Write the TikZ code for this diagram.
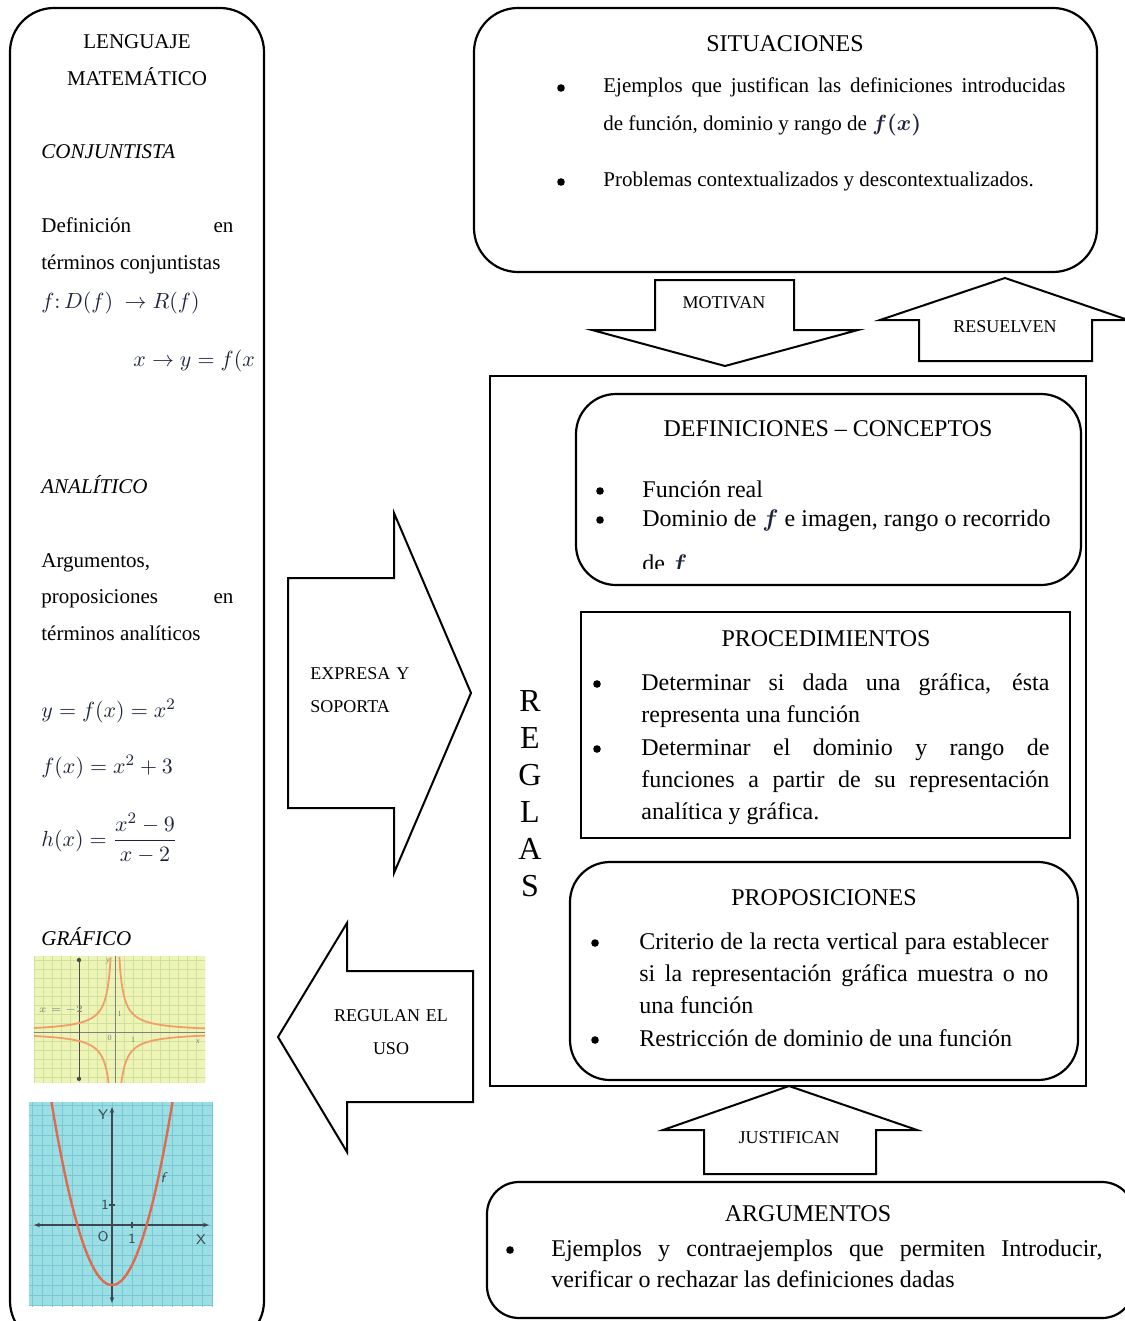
\documentclass[tikz,border=0pt]{standalone}
\usepackage{amsmath}
\usepackage{fontspec}
\setmainfont{Liberation Serif}
\usetikzlibrary{fit}
\usetikzlibrary{arrows.meta}

\definecolor{ybg}{RGB}{238,243,182}
\definecolor{ygrid}{RGB}{206,226,160}
\definecolor{ycurve}{RGB}{240,158,108}
\definecolor{cbg}{RGB}{155,223,229}
\definecolor{cgrid}{RGB}{118,200,212}
\definecolor{ccurve}{RGB}{226,104,78}
\definecolor{caxis}{RGB}{62,72,82}
\definecolor{mcol}{RGB}{30,36,60}

\tikzset{
  rbox/.style={draw, line width=1.1pt, rounded corners=20pt, inner sep=0pt},
  sbox/.style={draw, line width=1pt, inner sep=0pt},
  barrow/.style={draw, line width=1pt, line join=miter},
  title/.style={font=\fontsize{12}{14}\selectfont, anchor=base, inner sep=0pt},
  ltxt/.style={font=\fontsize{10.5}{18.5}\selectfont, anchor=base west, inner sep=0pt},
  lmath/.style={font=\fontsize{11}{13}\selectfont, text=mcol, anchor=base west, inner sep=0pt},
  stxt/.style={font=\fontsize{10.5}{19}\selectfont, anchor=base west, inner sep=0pt},
  btxt/.style={font=\fontsize{12}{16}\selectfont, anchor=base west, inner sep=0pt},
  atxt/.style={font=\fontsize{9}{16.5}\selectfont, inner sep=0pt},
  bul/.style={circle, fill, inner sep=0pt, minimum size=3.8pt},
}
\newcommand{\fm}[1]{\textcolor{mcol}{\boldmath$#1$}}

\begin{document}
\begin{tikzpicture}[x=0.5pt, y=-0.5pt]
  \useasboundingbox (0,0) rectangle (1124,1321);

  % lenguaje matematico
  \node[rbox, rounded corners=22pt, fit={(10,8) (264,1345)}] (leng) {};
  \node[ltxt, anchor=base] (lengA) at (137,49) {LENGUAJE};
  \node[ltxt, anchor=base] (lengB) at (137,86) {MATEMÁTICO};
  \node[ltxt] (conj) at (41,159) {\textit{CONJUNTISTA}};
  \node[ltxt, text width=96pt, align=justify] (defc) at (41,233)
    {Definición en\linebreak términos conjuntistas};
  \node[lmath] (fmap) at (41,308) {$f{:}\,D(f)\ \rightarrow R(f)$};
  \begin{scope}
    \clip (130,340) rectangle (253,385);
    \node[lmath] (xmap) at (133,366) {$x\rightarrow y=f(x)$};
  \end{scope}
  \node[ltxt] (anal) at (41,493) {\textit{ANALÍTICO}};
  \node[ltxt, text width=96pt, align=justify, font=\fontsize{10.5}{18.25}\selectfont] (argl) at (41,567)
    {Argumentos,\\proposiciones en\linebreak términos analíticos};
  \node[lmath] (eqA) at (41,717) {$y=f(x)=x^2$};
  \node[lmath] (eqB) at (41,773) {$f(x)=x^2+3$};
  \node[lmath, anchor=west] (eqC) at (41,838) {$h(x)=\dfrac{x^2-9}{x-2}$};
  \node[ltxt] (graf) at (41,945) {\textit{GRÁFICO}};

  % grafica amarilla
  \begin{scope}[shift={(115,1032)}, x=9pt, y=9pt]
    \clip (-4.5,-2.83) rectangle (5,4.22);
    \fill[ybg] (-4.5,-2.83) rectangle (5,4.22);
    \draw[ygrid, line width=0.3pt, step=0.5] (-4.5,-3) grid (5,4.5);
    \draw[gray, line width=0.4pt] (-4.5,0) -- (5,0);
    \draw[gray, line width=0.4pt] (0,-2.83) -- (0,4.22);
    \draw[black!70, line width=0.5pt] (-2,-2.6) -- (-2,4.0);
    \fill[black!70] (-2,-2.6) circle (0.12) (-2,4.0) circle (0.12);
    \draw[ycurve, line width=0.9pt, domain=0.24:5, samples=80] plot (\x,{1/\x});
    \draw[ycurve, line width=0.9pt, domain=0.24:5, samples=80] plot (\x,{-1/\x});
    \draw[ycurve, line width=0.9pt, domain=-4.5:-0.24, samples=80] plot (\x,{-1/\x});
    \draw[ycurve, line width=0.9pt, domain=-4.5:-0.24, samples=80] plot (\x,{1/\x});
    \node[gray, font=\fontsize{4}{5}\selectfont\itshape, inner sep=0pt] (yly) at (-0.4,3.9) {y};
    \node[gray, font=\fontsize{4}{5}\selectfont\itshape, inner sep=0pt] (ylx) at (4.6,-0.55) {x};
    \node[gray, font=\fontsize{4}{5}\selectfont, inner sep=0pt] (ylv) at (-3.0,1.2) {$x=-2$};
    \node[gray, font=\fontsize{4}{5}\selectfont, inner sep=0pt] (ylo) at (-0.3,-0.35) {0};
    \node[gray, font=\fontsize{4}{5}\selectfont, inner sep=0pt] (yl1) at (1,-0.45) {1};
    \node[gray, font=\fontsize{4}{5}\selectfont, inner sep=0pt] (yl2) at (0.25,1.0) {1};
  \end{scope}

  % grafica azul
  \begin{scope}[shift={(112,1225)}, x=10pt, y=10pt]
    \clip (-4.15,-4.05) rectangle (5.05,6.15);
    \fill[cbg] (-4.15,-4.05) rectangle (5.05,6.15);
    \draw[cgrid, line width=0.3pt, step=0.5] (-4.5,-4.5) grid (5.5,6.5);
    \draw[caxis, line width=0.6pt, {Stealth[length=3pt]}-{Stealth[length=3pt]}] (-3.9,0) -- (4.85,0);
    \draw[caxis, line width=0.6pt, {Stealth[length=3pt]}-{Stealth[length=3pt]}] (0,-3.9) -- (0,5.9);
    \draw[caxis, line width=0.6pt] (1,-0.15) -- (1,0.15) (-0.15,1) -- (0.15,1);
    \draw[ccurve, line width=1.2pt, domain=-3.3:3.3, samples=80] plot (\x,{\x*\x-3});
    \node[caxis, font=\fontsize{7}{8}\sffamily, inner sep=0pt] (cly) at (-0.45,5.5) {Y};
    \node[caxis, font=\fontsize{7}{8}\sffamily, inner sep=0pt] (clx) at (4.45,-0.75) {X};
    \node[caxis, font=\fontsize{7}{8}\sffamily, inner sep=0pt] (clo) at (-0.45,-0.6) {O};
    \node[caxis, font=\fontsize{7}{8}\sffamily, inner sep=0pt] (cl1) at (1,-0.7) {1};
    \node[caxis, font=\fontsize{7}{8}\sffamily, inner sep=0pt] (cl2) at (-0.35,1) {1};
    \node[caxis, font=\fontsize{7}{8}\sffamily\itshape, inner sep=0pt] (clf) at (2.55,2.35) {f};
  \end{scope}

  % flechas laterales
  \draw[barrow] (288,578) -- (394,578) -- (394,513) -- (471,693) -- (394,873)
    -- (394,808) -- (288,808) -- cycle;
  \node[atxt, anchor=base west, text width=62pt, align=left] (expr) at (310,679)
    {EXPRESA Y\\SOPORTA};
  \draw[barrow] (473,971) -- (347,971) -- (347,923) -- (278,1037) -- (347,1152)
    -- (347,1102) -- (473,1102) -- cycle;
  \node[atxt, anchor=base, text width=70pt, align=center] (regu) at (391,1021)
    {REGULAN EL\\USO};

  % situaciones
  \node[rbox, rounded corners=22pt, fit={(474,8) (1097,272)}] (sit) {};
  \node[title] (sitT) at (785,52) {SITUACIONES};
  \node[bul] (sitB1) at (561,88) {};
  \node[stxt, text width=231pt, align=justify] (sit1) at (603,93)
    {Ejemplos que justifican las definiciones introducidas\linebreak de función, dominio y rango de \fm{f(x)}};
  \node[bul] (sitB2) at (561,182) {};
  \node[stxt] (sit2) at (603,187) {Problemas contextualizados y descontextualizados.};

  % motivan / resuelven
  \draw[barrow] (655,280) -- (794,280) -- (794,330) -- (858,330) -- (725,366)
    -- (592,330) -- (655,330) -- cycle;
  \node[atxt, anchor=base] (moti) at (724,308) {MOTIVAN};
  \draw[barrow] (919,361) -- (919,320) -- (880,320) -- (1005,278) -- (1128,320)
    -- (1092,320) -- (1092,361) -- cycle;
  \node[atxt, anchor=base] (resu) at (1005,332) {RESUELVEN};

  % reglas
  \node[sbox, fit={(490,376) (1086,1086)}] (regl) {};
  \node[font=\fontsize{16}{18.5}\selectfont, anchor=base, inner sep=0pt, text width=14pt, align=center]
    (reglT) at (530,711) {R\\E\\G\\L\\A\\S};

  % definiciones
  \node[rbox, fit={(576,394) (1081,585)}] (defi) {};
  \node[title] (defiT) at (828,436) {DEFINICIONES -- CONCEPTOS};
  \node[bul] (defiB1) at (600,491) {};
  \node[btxt] (defi1) at (642,497) {Función real};
  \node[bul] (defiB2) at (600,520) {};
  \node[btxt] (defi2) at (642,526) {Dominio de \fm{f} e imagen, rango o recorrido};
  \begin{scope}
    \clip (600,540) rectangle (1000,568);
    \node[btxt] (defi3) at (642,571) {de \fm{f}};
  \end{scope}

  % procedimientos
  \node[sbox, line width=1.1pt, fit={(581,612) (1070,838)}] (proc) {};
  \node[title] (procT) at (826,646) {PROCEDIMIENTOS};
  \node[bul] (procB1) at (597,684) {};
  \node[btxt, text width=204pt, align=justify] (proc1) at (641,690)
    {Determinar si dada una gráfica, ésta\linebreak representa una función};
  \node[bul] (procB2) at (597,749) {};
  \node[btxt, text width=204pt, align=justify] (proc2) at (641,755)
    {Determinar el dominio y rango de\linebreak funciones a partir de su representación\linebreak analítica y gráfica.};

  % proposiciones
  \node[rbox, fit={(570,862) (1078,1080)}] (prop) {};
  \node[title] (propT) at (824,905) {PROPOSICIONES};
  \node[bul] (propB1) at (595,943) {};
  \node[btxt, text width=204.5pt, align=justify] (prop1) at (639,949)
    {Criterio de la recta vertical para establecer\linebreak si la representación gráfica muestra o no\linebreak una función};
  \node[bul] (propB2) at (595,1040) {};
  \node[btxt] (prop2) at (639,1046) {Restricción de dominio de una función};

  % justifican
  \draw[barrow] (704,1174) -- (704,1130) -- (663,1130) -- (789,1086) -- (917,1130)
    -- (876,1130) -- (876,1174) -- cycle;
  \node[atxt, anchor=base] (just) at (789,1143) {JUSTIFICAN};

  % argumentos
  \node[rbox, rounded corners=16pt, fit={(487,1182) (1134,1318)}] (argu) {};
  \node[title] (arguT) at (808,1221) {ARGUMENTOS};
  \node[bul] (arguB1) at (510,1250) {};
  \node[btxt, text width=275.5pt, align=justify, font=\fontsize{12}{15.5}\selectfont] (argu1) at (551,1256)
    {Ejemplos y contraejemplos que permiten Introducir,\linebreak verificar o rechazar las definiciones dadas};
\end{tikzpicture}
\end{document}
